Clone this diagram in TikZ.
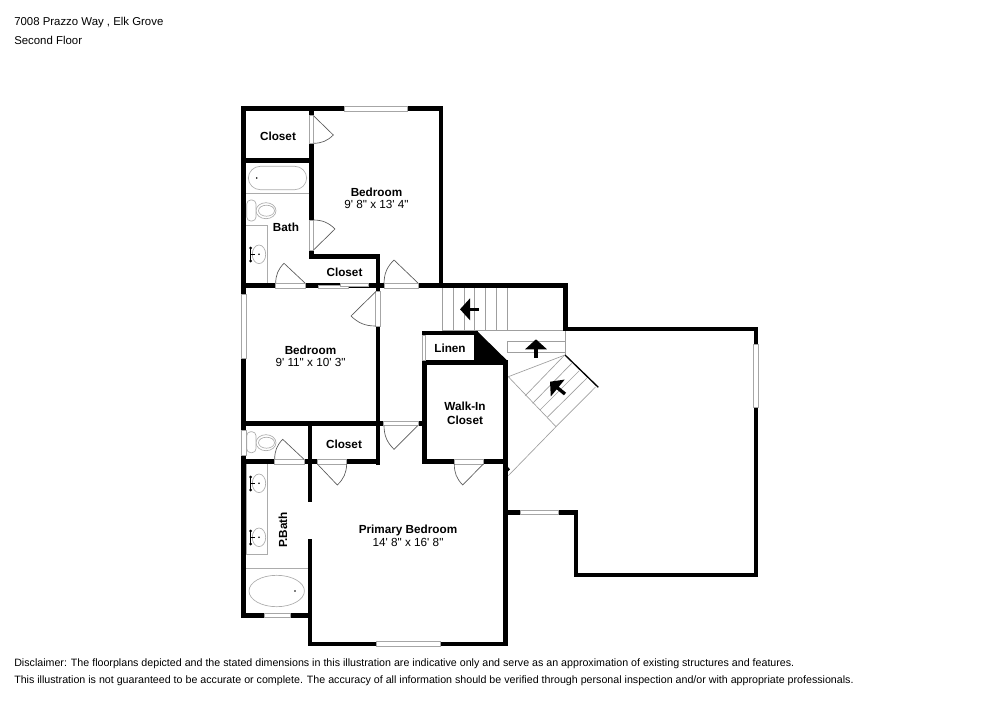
\documentclass[tikz,border=0pt]{standalone}
\usepackage{fontspec}
\usepackage{xcolor}
\setmainfont{Liberation Sans}[Ligatures=TeXOff]
\usetikzlibrary{arrows.meta}

\tikzset{
  wall/.style={line width=3.4pt, black, line cap=rect, miter limit=10},
  opening/.style={draw=gray!70, fill=white, line width=0.5pt},
  fixture/.style={draw=gray!65, line width=0.5pt},
  door/.style={draw=gray!70!black, line width=0.5pt},
  tread/.style={draw=gray!75, line width=0.5pt},
  stairarrow/.style={line width=2.5pt, black, -{Triangle[width=16pt,length=7.5pt]}},
  faucet/.style={draw=black, line width=0.7pt},
  room/.style={font=\fontsize{8.8pt}{10.5pt}\selectfont\bfseries, inner sep=0pt, align=center},
  size/.style={font=\fontsize{8.8pt}{10.5pt}\selectfont, inner sep=0pt},
  header/.style={font=\fontsize{8.55pt}{10pt}\selectfont, inner sep=0pt, anchor=west},
  note/.style={font=\fontsize{8pt}{10pt}\selectfont, inner sep=0pt, anchor=west}
}

\begin{document}
\begin{tikzpicture}[x=0.75pt,y=-0.75pt]
  \useasboundingbox (0,0) rectangle (1000,707);

  % Header
  \node[header] (address) at (14,22.5) {7008 Prazzo Way , Elk Grove};
  \node[header] (floor) at (14,40) {Second Floor};

  % Upper bath fixtures
  \draw[fixture, rounded corners=9pt] (248.3,166.3) rectangle (306.7,189.7);
  \fill[black] (256.7,178) circle (0.9);
  \draw[fixture] (246,193.3) -- (309,193.3);
  \draw[fixture] (246,225) -- (267.3,225) -- (267.3,283.3);
  \draw[fixture] (266,210.7) ellipse (10 and 8);
  \draw[fixture] (266.5,210.7) ellipse (8 and 5.5);
  \draw[fixture, fill=white, rounded corners=3pt] (246.7,200) rectangle (256,221);
  \draw[fixture] (259,254.3) ellipse (6.7 and 9.3);
  \fill[black] (259,254.3) circle (0.9);
  \draw[faucet] (250.7,248) -- (250.7,261);
  \draw[faucet] (250.7,254.3) -- (255,254.3);
  \fill[black] (250.7,248) circle (1.5);
  \fill[black] (250.7,261) circle (1.5);

  % Primary bath fixtures
  \draw[fixture] (246.7,464) -- (246.7,554.3) -- (267.3,554.3) -- (267.3,464);
  \draw[fixture] (266,442.7) ellipse (10 and 8);
  \draw[fixture] (266.5,442.7) ellipse (8 and 5.5);
  \draw[fixture, fill=white, rounded corners=3pt] (246.7,431.7) rectangle (256,452.7);
  \draw[fixture] (259,483.3) ellipse (6.7 and 9.3);
  \fill[black] (259,483.3) circle (0.9);
  \draw[faucet] (250.7,477) -- (250.7,490);
  \draw[faucet] (250.7,483.3) -- (255,483.3);
  \fill[black] (250.7,477) circle (1.5);
  \fill[black] (250.7,490) circle (1.5);
  \draw[fixture] (259,537.3) ellipse (6.7 and 9.3);
  \fill[black] (259,537.3) circle (0.9);
  \draw[faucet] (250.7,531) -- (250.7,544);
  \draw[faucet] (250.7,537.3) -- (255,537.3);
  \fill[black] (250.7,531) circle (1.5);
  \fill[black] (250.7,544) circle (1.5);
  \draw[fixture] (246,568.7) -- (308,568.7);
  \draw[fixture] (276.7,591) ellipse (27.7 and 15.7);
  \fill[black] (295,591) circle (0.9);

  % Stairs, top run
  \draw[tread] (442.7,288) -- (442.7,330.7);
  \draw[tread] (453.3,288) -- (453.3,330.7);
  \draw[tread] (464,288) -- (464,330.7);
  \draw[tread] (474.7,288) -- (474.7,330.7);
  \draw[tread] (485.3,288) -- (485.3,330.7);
  \draw[tread] (496.7,288) -- (496.7,330.7);
  \draw[tread] (507.3,288) -- (507.3,330.7);
  \draw[tread] (442.7,330.7) -- (565.7,330.7);

  % Stairs, landing
  \draw[tread] (507.3,341) -- (565,341);
  \draw[tread] (507.3,352.3) -- (565,352.3);
  \draw[tread] (507.3,341) -- (507.3,352.3);
  \draw[tread] (565,330.7) -- (565,355);

  % Stairs, diagonal run
  \draw[tread] (565,355) -- (508.3,376.7) -- (556,426.7) -- (595.5,387);
  \draw[tread] (556,426.7) -- (508.3,475.7);
  \draw[tread] (525,396) -- (564,355.7);
  \draw[tread] (532.7,403.3) -- (571.7,363.3);
  \draw[tread] (540,410) -- (579.3,370.7);
  \draw[tread] (547.3,417.3) -- (586.7,378.3);
  \draw[black, line width=1pt] (565,355) -- (598.3,387.3);

  % Stair arrows
  \draw[stairarrow] (479,309.3) -- (460,309.3);
  \draw[stairarrow] (536,357.7) -- (536,339.3);
  \draw[stairarrow] (565,394) -- (550,381.7);

  % Outer walls
  \draw[wall] (243.7,108.7) -- (441,108.7) -- (441,285.7);
  \draw[wall] (243.7,108.7) -- (243.7,615.5) -- (310,615.5);
  \draw[wall] (310,541.5) -- (310,644) -- (505.3,644) -- (505.3,362.7);
  \draw[wall] (505.3,512.3) -- (576,512.3) -- (576,575) -- (756,575) -- (756,329) -- (565.7,329) -- (565.7,285.7) -- (243.7,285.7);

  % Inner walls
  \draw[wall] (243.7,160.7) -- (311.3,160.7);
  \draw[wall] (311.3,108.7) -- (311.3,256.3) -- (378,256.3) -- (378,463);
  \draw[wall] (243.7,423.5) -- (424.5,423.5);
  \draw[wall] (243.7,461.7) -- (378,461.7);
  \draw[wall] (310,423.5) -- (310,500);

  % Linen and walk-in closet
  \draw[wall] (424.5,332.8) -- (476,332.8);
  \draw[wall] (424.5,362.7) -- (424.5,461.7) -- (505.3,461.7);
  \draw[wall] (424.5,362.7) -- (505.3,362.7);
  \fill[black] (476.7,330.7) -- (507.3,360.7) -- (474,360.7) -- (474,335) -- cycle;
  \fill[black] (507,466) -- (510,469.3) -- (507,472.5) -- cycle;

  % Windows
  \draw[opening] (344,106.5) rectangle (407,110.9);
  \draw[opening] (241.5,294) rectangle (245.9,358.3);
  \draw[opening] (241.5,430.7) rectangle (245.9,455.7);
  \draw[opening] (264,613.3) rectangle (290,617.7);
  \draw[opening] (376,641.8) rectangle (440,646.2);
  \draw[opening] (520,510.1) rectangle (558.3,514.5);
  \draw[opening] (753.8,344.3) rectangle (758.2,407.3);
  \draw[opening] (422.3,335) rectangle (425.3,360.5);

  % Doorways
  \draw[opening] (309.1,115.7) rectangle (313.5,143.3);
  \draw[opening] (309.1,220) rectangle (313.5,250);
  \draw[opening] (275.7,283.5) rectangle (305.3,287.9);
  \draw[opening] (384,283.5) rectangle (418.3,287.9);
  \draw[opening] (375.8,291.7) rectangle (380.2,326);
  \draw[opening] (383.3,421.3) rectangle (418.3,425.7);
  \draw[opening] (454.3,459.5) rectangle (483.3,463.9);
  \draw[opening] (274.7,459.5) rectangle (304,463.9);
  \draw[opening] (317.3,459.5) rectangle (346.7,463.9);

  % Sliding door
  \draw[opening] (318,285) rectangle (348,287.9);
  \draw[opening] (340,283.5) rectangle (368,286.2);

  % Door swings
  \draw[door] (313.5,115.7) -- (333.3,135) to[bend left=22] (313.5,143.3);
  \draw[door] (313.5,250) -- (335,229) to[bend right=22] (313.5,220);
  \draw[door] (305.3,283.3) -- (284,263.3) to[bend right=22] (275.7,283.3);
  \draw[door] (418.3,283.3) -- (394,260) to[bend right=22] (384,283.3);
  \draw[door] (375.7,291.7) -- (351,316) to[bend right=22] (375.7,326);
  \draw[door] (417.7,425.7) -- (394,449.3) to[bend left=22] (384,425.7);
  \draw[door] (483.3,464) -- (462.7,485) to[bend left=22] (454.3,464);
  \draw[door] (304,459.3) -- (282.7,439.3) to[bend right=22] (274.7,459.3);
  \draw[door] (317.3,464) -- (337.3,485) to[bend right=22] (346.7,464);

  % Room labels
  \node[room] (closet1) at (278,136) {Closet};
  \node[room] (bedroom1) at (376.5,192) {Bedroom};
  \node[size] (size1) at (376.5,204) {9' 8" x 13' 4"};
  \node[room] (bath) at (286,227.5) {Bath};
  \node[room] (closet2) at (344.5,272) {Closet};
  \node[room] (bedroom2) at (310.5,350) {Bedroom};
  \node[size] (size2) at (310.5,362) {9' 11" x 10' 3"};
  \node[room] (linen) at (450,348) {Linen};
  \node[room] (walkin) at (465,413) {Walk-In\\Closet};
  \node[room] (closet3) at (344,444) {Closet};
  \node[room, rotate=90] (pbath) at (283,530) {P.Bath};
  \node[room] (primary) at (408,530) {Primary Bedroom};
  \node[size] (size3) at (408,542.5) {14' 8" x 16' 8"};

  % Disclaimer
  \node[note] (disclaimer1) at (14,663.5) {Disclaimer: The floorplans depicted and the stated dimensions in this illustration are indicative only and serve as an approximation of existing structures and features.};
  \node[note] (disclaimer2) at (14,681) {This illustration is not guaranteed to be accurate or complete. The accuracy of all information should be verified through personal inspection and/or with appropriate professionals.};
\end{tikzpicture}
\end{document}
